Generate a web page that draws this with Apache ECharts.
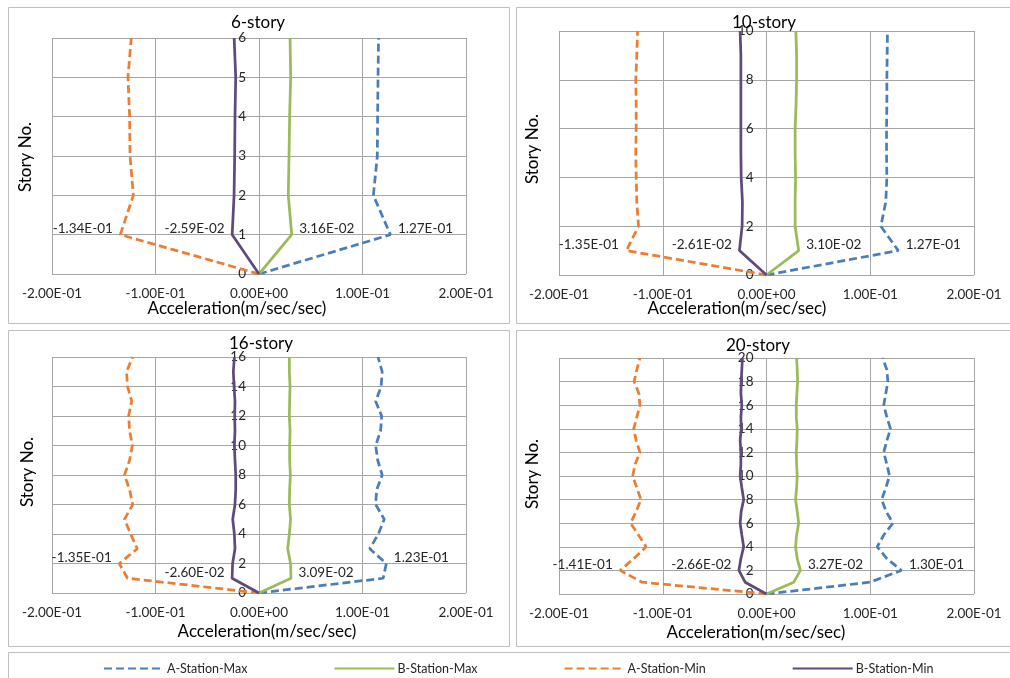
<!DOCTYPE html>
<html><head><meta charset="utf-8">
<script src="https://cdn.jsdelivr.net/npm/echarts@6/dist/echarts.min.js"></script>
<style>html,body{margin:0;padding:0;background:#fff}#c{width:1010px;height:678px}</style>
</head><body><div id="c"></div>
<script>
// ---------- data ----------
const seriesNames = ['A-Station-Max', 'B-Station-Max', 'A-Station-Min', 'B-Station-Min'];
const panelTitles = ['6-story', '10-story', '16-story', '20-story'];
const storyMax = [6, 10, 16, 20];
const storyInterval = [1, 2, 2, 2];
const xTickValues = [-0.2, -0.1, 0, 0.1, 0.2];
const xTickLabels = ['-2.00E-01', '-1.00E-01', '0.00E+00', '1.00E-01', '2.00E-01'];
const xAxisTitle = 'Acceleration(m/sec/sec)';
const yAxisTitle = 'Story No.';

// values indexed by story number (0 = ground)
const aMax6 = [0, 0.127, 0.1105, 0.1143, 0.1146, 0.1150, 0.1155];
const bMax6 = [0, 0.0316, 0.0283, 0.0290, 0.0296, 0.0306, 0.0300];
const aMin6 = [0, -0.134, -0.1214, -0.1246, -0.1250, -0.1266, -0.1234];
const bMin6 = [0, -0.0259, -0.0241, -0.0235, -0.0232, -0.0225, -0.0240];

const aMax10 = [0, 0.127, 0.1102, 0.1150, 0.1160, 0.1157, 0.1157, 0.1160, 0.1160, 0.1163, 0.1166];
const bMax10 = [0, 0.0310, 0.0276, 0.0276, 0.0280, 0.0276, 0.0276, 0.0285, 0.0290, 0.0290, 0.0283];
const aMin10 = [0, -0.135, -0.1234, -0.1250, -0.1256, -0.1260, -0.1256, -0.1256, -0.1260, -0.1250, -0.1243];
const bMin10 = [0, -0.0261, -0.0235, -0.0232, -0.0244, -0.0247, -0.0247, -0.0247, -0.0247, -0.0247, -0.0254];

const aMax16 = [0, 0.1200, 0.123, 0.1070, 0.1153, 0.1210, 0.1127, 0.1137, 0.1190, 0.1147, 0.1127, 0.1175, 0.1185, 0.1127, 0.1180, 0.1190, 0.1150];
const bMax16 = [0, 0.0309, 0.0305, 0.0277, 0.0293, 0.0305, 0.0293, 0.0296, 0.0303, 0.0296, 0.0296, 0.0300, 0.0293, 0.0296, 0.0300, 0.0293, 0.0293];
const aMin16 = [0, -0.1270, -0.135, -0.1176, -0.1240, -0.1300, -0.1220, -0.1250, -0.1300, -0.1250, -0.1224, -0.1250, -0.1260, -0.1230, -0.1270, -0.1280, -0.1220];
const bMin16 = [0, -0.0260, -0.0255, -0.0232, -0.0238, -0.0254, -0.0232, -0.0225, -0.0225, -0.0232, -0.0238, -0.0232, -0.0235, -0.0232, -0.0241, -0.0248, -0.0238];

const aMax20 = [0, 0.0999, 0.130, 0.1160, 0.1067, 0.1130, 0.1218, 0.1153, 0.1110, 0.1150, 0.1186, 0.1160, 0.1130, 0.1160, 0.1195, 0.1160, 0.1130, 0.1150, 0.1170, 0.1160, 0.1120];
const bMax20 = [0, 0.0263, 0.0327, 0.0296, 0.0280, 0.0290, 0.0310, 0.0296, 0.0280, 0.0290, 0.0296, 0.0290, 0.0287, 0.0293, 0.0296, 0.0287, 0.0287, 0.0293, 0.0300, 0.0296, 0.0290];
const aMin20 = [0, -0.1200, -0.141, -0.1280, -0.1160, -0.1234, -0.1310, -0.1256, -0.1210, -0.1250, -0.1290, -0.1266, -0.1220, -0.1256, -0.1280, -0.1250, -0.1220, -0.1230, -0.1276, -0.1250, -0.1220];
const bMin20 = [0, -0.0206, -0.0266, -0.0247, -0.0220, -0.0238, -0.0254, -0.0244, -0.0220, -0.0238, -0.0254, -0.0247, -0.0247, -0.0254, -0.0244, -0.0247, -0.0238, -0.0247, -0.0244, -0.0238, -0.0232];

const panelData = [
  [aMax6, bMax6, aMin6, bMin6],
  [aMax10, bMax10, aMin10, bMin10],
  [aMax16, bMax16, aMin16, bMin16],
  [aMax20, bMax20, aMin20, bMin20]
];

// ---------- styling / layout ----------
const FONT = 'Lato';
const colors = ['#4A7EBB', '#9BBB59', '#ED7D31', '#604A7B'];
const dashed = [true, false, true, false];
const labelSide = ['right', 'right', 'left', 'left'];
const X_MIN = -0.2, X_MAX = 0.2;
const grids = [
  {left: 52, top: 38, width: 414, height: 236},
  {left: 559, top: 31, width: 415, height: 244},
  {left: 52, top: 357, width: 414, height: 236},
  {left: 559, top: 358, width: 415, height: 236}
];
const boxes = [
  {x: 8.5, y: 7.5, w: 501, h: 316},
  {x: 516.5, y: 7.5, w: 510, h: 316},
  {x: 8.5, y: 330.5, w: 501, h: 316},
  {x: 516.5, y: 330.5, w: 510, h: 316}
];
const titlePos = [[258, 23], [764, 23], [261, 344], [758, 346]];
const xNamePos = [[237, 309], [737, 309], [267, 632], [756, 633]];
const yNamePos = [[26, 157], [533, 149], [28, 472], [533, 474]];

function sci(v) {
  const s = v.toExponential(2).split('e');
  const e = parseInt(s[1], 10);
  return s[0] + 'E' + (e < 0 ? '-' : '+') + String(Math.abs(e)).padStart(2, '0');
}
function xTick(v) {
  let best = 0;
  xTickValues.forEach((t, i) => { if (Math.abs(t - v) < Math.abs(xTickValues[best] - v)) best = i; });
  return xTickLabels[best];
}

const gridLine = '#a6a6a6';
const xAxes = [], yAxes = [], series = [], graphic = [];
grids.forEach((g, p) => {
  xAxes.push({
    gridIndex: p, type: 'value', min: X_MIN, max: X_MAX, interval: 0.1, position: 'bottom',
    axisLine: {show: false, onZero: false}, axisTick: {show: false},
    splitLine: {show: true, lineStyle: {color: gridLine, width: 1}},
    axisLabel: {formatter: xTick, fontFamily: FONT, fontSize: 13.5, color: '#262626', margin: 13}
  });
  // vertical axis crosses the horizontal one at x = 0 (as in the original)
  yAxes.push({
    gridIndex: p, type: 'value', min: 0, max: storyMax[p], interval: storyInterval[p],
    position: 'left', offset: -g.width * (0 - X_MIN) / (X_MAX - X_MIN),
    axisLine: {show: false, onZero: false}, axisTick: {show: false},
    splitLine: {show: true, lineStyle: {color: gridLine, width: 1}},
    axisLabel: {fontFamily: FONT, fontSize: 13.5, color: '#262626', margin: 13}
  });
  panelData[p].forEach((vals, s) => {
    let peak = 0;
    vals.forEach((v, i) => { if (Math.abs(v) > Math.abs(vals[peak])) peak = i; });
    series.push({
      name: seriesNames[s], type: 'line', xAxisIndex: p, yAxisIndex: p,
      symbol: 'circle', symbolSize: 1, showSymbol: true, showAllSymbol: true, z: 3,
      lineStyle: {color: colors[s], width: 2.75, type: dashed[s] ? [8, 4] : 'solid', cap: 'butt'},
      itemStyle: {color: 'rgba(0,0,0,0)', borderWidth: 0},
      label: {
        show: false, position: labelSide[s], distance: 7, offset: [0, -6],
        fontFamily: FONT, fontSize: 13.5, color: '#262626',
        formatter: (d) => sci(d.value[0])
      },
      emphasis: {disabled: true},
      data: vals.map((v, i) => i === peak ? {value: [v, i], label: {show: true}} : [v, i])
    });
  });
  const b = boxes[p];
  graphic.push({type: 'rect', shape: {x: b.x, y: b.y, width: b.w, height: b.h},
    style: {fill: 'none', stroke: '#bfbfbf', lineWidth: 1}, z: 0, silent: true});
  graphic.push({type: 'text', x: titlePos[p][0], y: titlePos[p][1], z: 10,
    style: {text: panelTitles[p], fontFamily: FONT, fontSize: 17, fill: '#000',
      align: 'center', verticalAlign: 'middle', textAlign: 'center', textVerticalAlign: 'middle'}});
  graphic.push({type: 'text', x: xNamePos[p][0], y: xNamePos[p][1], z: 10,
    style: {text: xAxisTitle, fontFamily: FONT, fontSize: 17, fill: '#000',
      align: 'center', verticalAlign: 'middle', textAlign: 'center', textVerticalAlign: 'middle'}});
  graphic.push({type: 'text', x: yNamePos[p][0], y: yNamePos[p][1], rotation: Math.PI / 2, z: 10,
    style: {text: yAxisTitle, fontFamily: FONT, fontSize: 17, fill: '#000',
      align: 'center', verticalAlign: 'middle', textAlign: 'center', textVerticalAlign: 'middle'}});
});
graphic.push({type: 'rect', shape: {x: 8.5, y: 652.5, width: 1010, height: 40},
  style: {fill: 'none', stroke: '#bfbfbf', lineWidth: 1}, z: 0, silent: true});

const chart = echarts.init(document.getElementById('c'), null, {renderer: 'canvas'});
chart.setOption({
  animation: false,
  backgroundColor: '#fff',
  grid: grids.map(g => Object.assign({containLabel: false, outerBoundsMode: 'none'}, g)),
  xAxis: xAxes,
  yAxis: yAxes,
  legend: {
    data: seriesNames, left: 98, top: 657, itemWidth: 60, itemHeight: 14, itemGap: 86,
    itemStyle: {opacity: 0},
    textStyle: {fontFamily: FONT, fontSize: 12.5, color: '#262626', padding: [0, 0, 0, -2]}
  },
  graphic: graphic,
  series: series
});
</script></body></html>
